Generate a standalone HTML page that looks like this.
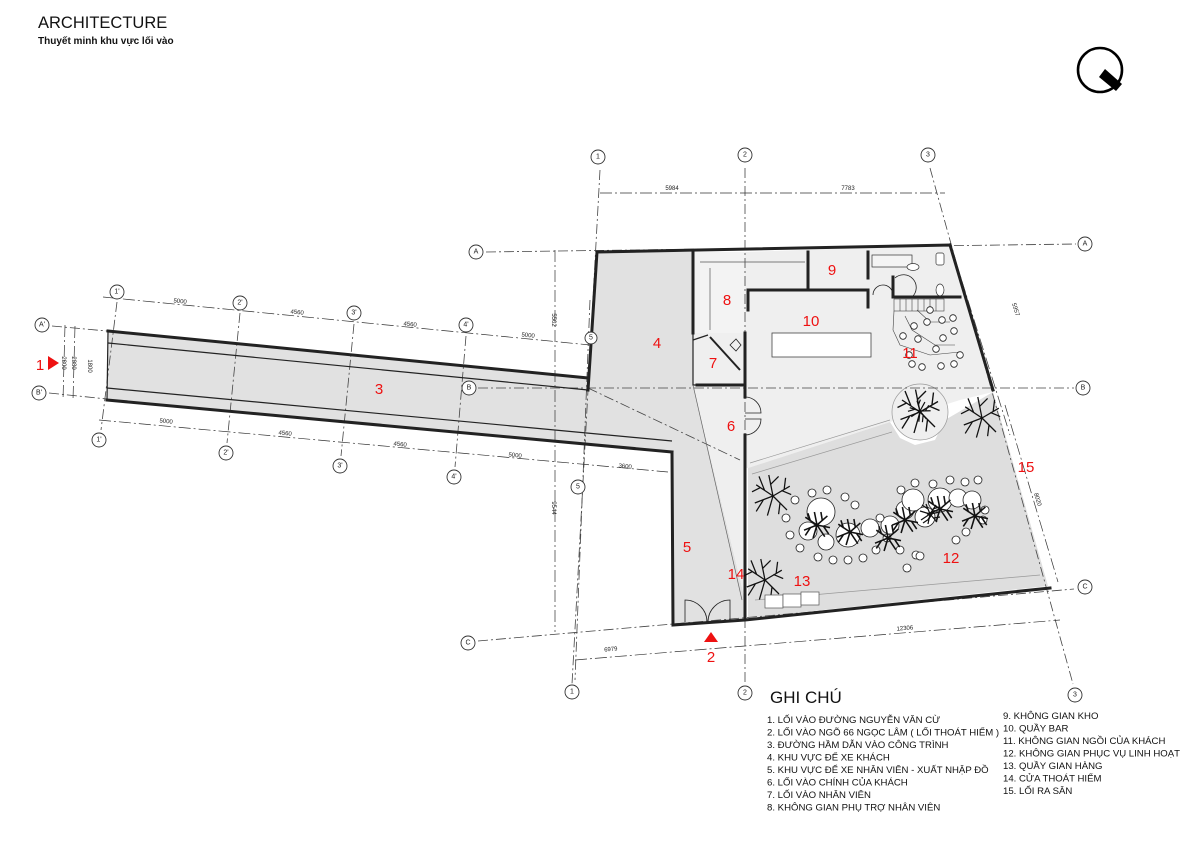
<!DOCTYPE html>
<html><head><meta charset="utf-8"><style>
html,body{margin:0;padding:0;background:#fff;}
svg{display:block;}
text{font-family:"Liberation Sans","DejaVu Sans",sans-serif;}
.g{stroke:#444;stroke-width:0.8;stroke-dasharray:10 3 2 3;fill:none}
.d{stroke:#333;stroke-width:0.7;fill:none;stroke-dasharray:12 3 2 3}
.w{stroke:#222;stroke-width:3;fill:none;stroke-linecap:square}
.t{stroke:#222;stroke-width:1.2;fill:none}
.bub{fill:#fff;stroke:#333;stroke-width:0.9}
.bt{font-size:7px;fill:#222;text-anchor:middle;dominant-baseline:central}
.dim{font-size:6px;fill:#222;text-anchor:middle}
.r{font-size:15px;fill:#ee1111;text-anchor:middle}
.tb{fill:#fff;stroke:#222;stroke-width:0.8}
.leg{font-size:9.6px;fill:#111}
</style></head><body>
<svg width="1200" height="849" viewBox="0 0 1200 849" xmlns="http://www.w3.org/2000/svg">
<defs>
<g id="tree" stroke="#111" stroke-width="0.9" fill="none">
<path d="M0 0 L-12 -8 M-6 -4 L-10 -14 M0 0 L-3 -15 M-2 -8 L4 -14 M0 0 L12 -7 M6 -4 L13 -1 M0 0 L10 10 M5 5 L4 13 M0 0 L-4 14 M0 0 L-13 5 M-7 3 L-12 11 M8 -5 L9 -13 M-9 -6 L-15 -3"/>
</g>
<g id="tree2" stroke="#111" stroke-width="1.2" fill="none">
<path d="M0 0 L-9 -6 M0 0 L-2 -10 M0 0 L8 -7 M0 0 L10 2 M0 0 L6 9 M0 0 L-3 10 M0 0 L-10 4 M-5 -3 L-7 -9 M4 -4 L3 -10 M5 1 L9 7 M-5 2 L-9 8"/>
</g>
</defs>

<!-- title -->
<text x="38" y="28" font-size="16.5" fill="#111">ARCHITECTURE</text>
<text x="38" y="44" font-size="10" fill="#111" font-weight="bold">Thuyết minh khu vực lối vào</text>

<!-- north -->
<circle cx="1100" cy="70" r="22" fill="none" stroke="#000" stroke-width="2.6"/>
<path d="M1099 77 L1105 69 L1122 84 L1116 91 Z" fill="#000"/>

<!-- fills -->
<polygon points="108,331 588,378 597,252 693,252 693,385 745,600 745,620 673,625 672,452 107,400" fill="#e1e1e1"/>
<polygon points="693,385 745,385 745,600" fill="#efefef"/>
<polygon points="693,333 745,333 745,385 693,385" fill="#efefef"/>
<polygon points="745,252 950,245 993,390 993,392 960,400 890,422 748,468 745,468" fill="#efefef"/>
<polygon points="693,252 745,252 745,333 693,333" fill="#f3f3f3"/>
<polygon points="748,468 890,422 900,438 915,445 935,440 945,420 993,392 1048,586 748,618" fill="#dedede"/>
<circle cx="920" cy="412" r="28" fill="#efefef" stroke="#999" stroke-width="0.7"/>
<path d="M750 463 L890 420 M752 474 L892 432" stroke="#999" stroke-width="0.7"/>
<path d="M755 600 L1040 575" stroke="#999" stroke-width="0.7"/>

<!-- grid lines main -->
<line class="g" x1="600" y1="170" x2="572" y2="684"/>
<line class="g" x1="745" y1="168" x2="745" y2="684"/>
<line class="g" x1="930" y1="168" x2="1073" y2="684"/>
<line class="g" x1="486" y1="252" x2="1076" y2="244"/>
<line class="g" x1="478" y1="388" x2="1074" y2="388"/>
<line class="g" x1="478" y1="641" x2="1074" y2="589"/>
<line class="g" x1="590" y1="300" x2="575" y2="680"/>
<!-- tunnel grid -->
<line class="g" x1="117" y1="302" x2="101" y2="430"/>
<line class="g" x1="240" y1="313" x2="227" y2="443"/>
<line class="g" x1="354" y1="324" x2="341" y2="456"/>
<line class="g" x1="466" y1="336" x2="455" y2="467"/>
<line class="g" x1="52" y1="326" x2="107" y2="331"/>
<line class="g" x1="49" y1="393" x2="107" y2="399"/>
<line class="g" x1="588" y1="388" x2="740" y2="460"/>
<!-- dimension lines -->
<line class="d" x1="103" y1="297" x2="590" y2="345"/>
<line class="d" x1="99" y1="420" x2="668" y2="472"/>
<line class="d" x1="600" y1="193" x2="945" y2="193"/>
<line class="d" x1="555" y1="250" x2="555" y2="632"/>
<line class="d" x1="575" y1="660" x2="1060" y2="620"/>
<line class="d" x1="950" y1="243" x2="1010" y2="435"/>
<line class="d" x1="1005" y1="405" x2="1058" y2="582"/>
<line class="d" x1="65" y1="325" x2="63" y2="400"/>
<line class="d" x1="75" y1="326" x2="73" y2="400"/>
<text class="dim" x="180" y="303" transform="rotate(5.6 180 303)">5000</text>
<text class="dim" x="297" y="314" transform="rotate(5.6 297 314)">4560</text>
<text class="dim" x="410" y="326" transform="rotate(5.6 410 326)">4560</text>
<text class="dim" x="528" y="337" transform="rotate(5.6 528 337)">5000</text>
<text class="dim" x="166" y="423" transform="rotate(5.6 166 423)">5000</text>
<text class="dim" x="285" y="435" transform="rotate(5.6 285 435)">4560</text>
<text class="dim" x="400" y="446" transform="rotate(5.6 400 446)">4560</text>
<text class="dim" x="515" y="457" transform="rotate(5.6 515 457)">5000</text>
<text class="dim" x="625" y="468" transform="rotate(5.6 625 468)">3600</text>
<text class="dim" x="672" y="190">5984</text>
<text class="dim" x="848" y="190">7783</text>
<text class="dim" x="611" y="651" transform="rotate(-5 611 651)">6979</text>
<text class="dim" x="905" y="630" transform="rotate(-5 905 630)">12306</text>
<text class="dim" x="552" y="320" transform="rotate(90 552 320)">5502</text>
<text class="dim" x="552" y="508" transform="rotate(90 552 508)">9544</text>
<text class="dim" x="1014" y="310" transform="rotate(73 1014 310)">5957</text>
<text class="dim" x="1036" y="500" transform="rotate(73 1036 500)">8020</text>
<text class="dim" x="62" y="363" transform="rotate(90 62 363)">2800</text>
<text class="dim" x="72" y="363" transform="rotate(90 72 363)">2880</text>
<text class="dim" x="88" y="366" transform="rotate(90 88 366)">1800</text>

<!-- tunnel walls -->
<line class="w" x1="108" y1="331" x2="588" y2="378" stroke-width="2.2"/>
<line class="t" x1="108" y1="343" x2="588" y2="390"/>
<line class="t" x1="107" y1="388" x2="672" y2="441"/>
<line class="w" x1="107" y1="400" x2="672" y2="452" stroke-width="2.2"/>
<line class="t" x1="108" y1="331" x2="107" y2="400"/>

<!-- building walls -->
<polyline class="w" points="588,390 597,252 950,245 993,390"/>
<polyline class="w" points="672,452 673,625 745,620 1050,588"/>
<polyline class="w" points="693,252 693,333" stroke-width="2.5"/>
<polyline class="t" points="693,333 693,385 745,385"/>
<polyline class="w" points="697,385 745,385" stroke-width="2.5"/>
<line class="w" x1="745" y1="333" x2="745" y2="397" stroke-width="2.5"/>
<line class="w" x1="745" y1="435" x2="745" y2="618" stroke-width="2.5"/>
<line class="w" x1="808" y1="252" x2="808" y2="290" stroke-width="2.5"/>
<polyline class="w" points="748,310 748,290 868,290 868,307" stroke-width="2.5"/>
<line class="w" x1="868" y1="252" x2="868" y2="278" stroke-width="2.5"/>
<line class="w" x1="893" y1="277" x2="893" y2="297" stroke-width="2.5"/>
<line class="w" x1="893" y1="297" x2="960" y2="297" stroke-width="2.5"/>
<line class="t" x1="693" y1="340" x2="708" y2="335" />
<polyline fill="none" stroke="#555" stroke-width="0.7" points="700,262 805,262"/>
<polyline fill="none" stroke="#555" stroke-width="0.7" points="710,268 710,330"/>
<line x1="693" y1="385" x2="742" y2="600" stroke="#666" stroke-width="0.7"/>
<line x1="710" y1="337" x2="740" y2="370" stroke="#222" stroke-width="2"/>
<!-- doors -->
<path d="M745 397 A16 16 0 0 1 761 413 L745 413 M745 435 A16 16 0 0 0 761 419 L745 419" fill="none" stroke="#222" stroke-width="0.8"/>
<path d="M685 622 L685 600 A22 22 0 0 1 707 622 M730 622 L730 600 A22 22 0 0 0 708 622" fill="none" stroke="#222" stroke-width="0.8"/>
<path d="M873 295 A10 10 0 0 1 893 295 M895 278 A10 10 0 0 1 912 297" fill="none" stroke="#222" stroke-width="0.8"/>
<path d="M730 345 l6 -6 l5 6 l-5 6z" fill="none" stroke="#222" stroke-width="0.8"/>

<!-- bar counter -->
<rect x="772" y="333" width="99" height="24" fill="#fff" stroke="#444" stroke-width="0.8"/>
<!-- stairs -->
<g stroke="#444" stroke-width="0.6" fill="none">
<rect x="894" y="299" width="50" height="12"/>
<path d="M900 299v12M906 299v12M912 299v12M918 299v12M924 299v12M930 299v12M936 299v12"/>
<path d="M894 311 L893 330 L900 345 L930 355 L960 352"/>
<path d="M905 316 L912 330 L935 345 L955 345"/>
<path d="M917 310 L930 322 L950 322"/>
</g>
<g class="tb">
<circle cx="903" cy="336" r="3.3"/><circle cx="914" cy="326" r="3.3"/><circle cx="918" cy="339" r="3.3"/><circle cx="927" cy="322" r="3.3"/><circle cx="930" cy="310" r="3.3"/>
<circle cx="942" cy="320" r="3.3"/><circle cx="943" cy="338" r="3.3"/><circle cx="954" cy="331" r="3.3"/><circle cx="953" cy="318" r="3.3"/>
<circle cx="909" cy="355" r="3.3"/><circle cx="912" cy="364" r="3.3"/><circle cx="922" cy="367" r="3.3"/><circle cx="941" cy="366" r="3.3"/><circle cx="954" cy="364" r="3.3"/><circle cx="960" cy="355" r="3.3"/><circle cx="936" cy="349" r="3.3"/>
</g>
<!-- WC -->
<g stroke="#333" stroke-width="0.7" fill="#fff">
<rect x="872" y="255" width="40" height="12" fill="#f4f4f4"/>
<ellipse cx="913" cy="267" rx="6" ry="3.5"/>
<rect x="936" y="253" width="8" height="12" rx="2"/>
<ellipse cx="940" cy="290" rx="4" ry="6"/>
</g>

<!-- courtyard tables -->
<g class="tb">
<circle cx="821" cy="512" r="14"/><circle cx="808" cy="531" r="9"/><circle cx="826" cy="542" r="8"/><circle cx="848" cy="535" r="12"/><circle cx="870" cy="528" r="9"/><circle cx="890" cy="525" r="9"/><circle cx="905" cy="510" r="9"/>
<circle cx="913" cy="500" r="11"/><circle cx="925" cy="517" r="10"/><circle cx="940" cy="500" r="12"/><circle cx="958" cy="498" r="9"/><circle cx="972" cy="500" r="9"/>
<circle cx="795" cy="500" r="4"/><circle cx="812" cy="493" r="4"/><circle cx="827" cy="490" r="4"/><circle cx="845" cy="497" r="4"/><circle cx="855" cy="505" r="4"/>
<circle cx="786" cy="518" r="4"/><circle cx="790" cy="535" r="4"/><circle cx="800" cy="548" r="4"/><circle cx="818" cy="557" r="4"/><circle cx="833" cy="560" r="4"/><circle cx="848" cy="560" r="4"/><circle cx="863" cy="558" r="4"/><circle cx="876" cy="550" r="4"/><circle cx="880" cy="518" r="4"/><circle cx="887" cy="538" r="4"/>
<circle cx="901" cy="490" r="4"/><circle cx="915" cy="483" r="4"/><circle cx="933" cy="484" r="4"/><circle cx="950" cy="480" r="4"/><circle cx="965" cy="482" r="4"/><circle cx="978" cy="480" r="4"/>
<circle cx="985" cy="510" r="4"/><circle cx="983" cy="520" r="4"/><circle cx="966" cy="532" r="4"/><circle cx="956" cy="540" r="4"/><circle cx="916" cy="555" r="4"/><circle cx="900" cy="550" r="4"/><circle cx="907" cy="568" r="4"/><circle cx="920" cy="556" r="4"/>
</g>
<use href="#tree" transform="translate(773 496) scale(1.4)"/>
<use href="#tree" transform="translate(982 418) scale(1.4)"/>
<use href="#tree" transform="translate(765 580) scale(1.4)"/>
<use href="#tree" transform="translate(920 412) scale(1.5)"/>
<use href="#tree2" transform="translate(920 411) rotate(40)"/>
<use href="#tree2" transform="translate(817 525) scale(1.3)"/>
<use href="#tree2" transform="translate(850 532) scale(1.3)"/>
<use href="#tree2" transform="translate(888 538) scale(1.3)"/>
<use href="#tree2" transform="translate(905 520) scale(1.3)"/>
<use href="#tree2" transform="translate(940 509) scale(1.3)"/>
<use href="#tree2" transform="translate(975 516) scale(1.3)"/>
<use href="#tree2" transform="translate(930 514) rotate(90)"/>
<rect x="765" y="595" width="18" height="13" fill="#fff" stroke="#555" stroke-width="0.7"/>
<rect x="783" y="594" width="18" height="13" fill="#fff" stroke="#555" stroke-width="0.7"/>
<rect x="801" y="592" width="18" height="13" fill="#fff" stroke="#555" stroke-width="0.7"/>

<!-- bubbles -->
<g>
<circle class="bub" cx="598" cy="157" r="7"/><text class="bt" x="598" y="157">1</text>
<circle class="bub" cx="745" cy="155" r="7"/><text class="bt" x="745" y="155">2</text>
<circle class="bub" cx="928" cy="155" r="7"/><text class="bt" x="928" y="155">3</text>
<circle class="bub" cx="572" cy="692" r="7"/><text class="bt" x="572" y="692">1</text>
<circle class="bub" cx="745" cy="693" r="7"/><text class="bt" x="745" y="693">2</text>
<circle class="bub" cx="1075" cy="695" r="7"/><text class="bt" x="1075" y="695">3</text>
<circle class="bub" cx="476" cy="252" r="7"/><text class="bt" x="476" y="252">A</text>
<circle class="bub" cx="1085" cy="244" r="7"/><text class="bt" x="1085" y="244">A</text>
<circle class="bub" cx="469" cy="388" r="7"/><text class="bt" x="469" y="388">B</text>
<circle class="bub" cx="1083" cy="388" r="7"/><text class="bt" x="1083" y="388">B</text>
<circle class="bub" cx="468" cy="643" r="7"/><text class="bt" x="468" y="643">C</text>
<circle class="bub" cx="1085" cy="587" r="7"/><text class="bt" x="1085" y="587">C</text>
<circle class="bub" cx="578" cy="487" r="7"/><text class="bt" x="578" y="487">5</text>
<circle class="bub" cx="591" cy="338" r="6"/><text class="bt" x="591" y="338">5</text>
<circle class="bub" cx="117" cy="292" r="7"/><text class="bt" x="117" y="292">1'</text>
<circle class="bub" cx="240" cy="303" r="7"/><text class="bt" x="240" y="303">2'</text>
<circle class="bub" cx="354" cy="313" r="7"/><text class="bt" x="354" y="313">3'</text>
<circle class="bub" cx="466" cy="325" r="7"/><text class="bt" x="466" y="325">4'</text>
<circle class="bub" cx="99" cy="440" r="7"/><text class="bt" x="99" y="440">1'</text>
<circle class="bub" cx="226" cy="453" r="7"/><text class="bt" x="226" y="453">2'</text>
<circle class="bub" cx="340" cy="466" r="7"/><text class="bt" x="340" y="466">3'</text>
<circle class="bub" cx="454" cy="477" r="7"/><text class="bt" x="454" y="477">4'</text>
<circle class="bub" cx="42" cy="325" r="7"/><text class="bt" x="42" y="325">A'</text>
<circle class="bub" cx="39" cy="393" r="7"/><text class="bt" x="39" y="393">B'</text>
</g>

<!-- red labels -->
<text class="r" x="40" y="370">1</text>
<polygon points="48,356 48,370 59,363" fill="#ee1111"/>
<polygon points="711,632 704,642 718,642" fill="#ee1111"/>
<text class="r" x="711" y="662">2</text>
<text class="r" x="379" y="394">3</text>
<text class="r" x="657" y="348">4</text>
<text class="r" x="687" y="552">5</text>
<text class="r" x="731" y="431">6</text>
<text class="r" x="713" y="368">7</text>
<text class="r" x="727" y="305">8</text>
<text class="r" x="832" y="275">9</text>
<text class="r" x="811" y="326">10</text>
<text class="r" x="910" y="358">11</text>
<text class="r" x="951" y="563">12</text>
<text class="r" x="802" y="586">13</text>
<text class="r" x="736" y="579">14</text>
<text class="r" x="1026" y="472">15</text>

<!-- legend -->
<text x="770" y="703" font-size="17" fill="#111">GHI CHÚ</text>
<g class="leg">
<text x="767" y="723">1. LỐI VÀO ĐƯỜNG NGUYỄN VĂN CỪ</text>
<text x="767" y="735.5">2. LỐI VÀO NGÕ 66 NGỌC LÂM ( LỐI THOÁT HIỂM )</text>
<text x="767" y="748">3. ĐƯỜNG HẦM DẪN VÀO CÔNG TRÌNH</text>
<text x="767" y="760.5">4. KHU VỰC ĐỂ XE KHÁCH</text>
<text x="767" y="773">5. KHU VỰC ĐỂ XE NHÂN VIÊN - XUẤT NHẬP ĐỒ</text>
<text x="767" y="785.5">6. LỐI VÀO CHÍNH CỦA KHÁCH</text>
<text x="767" y="798">7. LỐI VÀO NHÂN VIÊN</text>
<text x="767" y="810.5">8. KHÔNG GIAN PHỤ TRỢ NHÂN VIÊN</text>
<text x="1003" y="719">9. KHÔNG GIAN KHO</text>
<text x="1003" y="731.5">10. QUẦY BAR</text>
<text x="1003" y="744">11. KHÔNG GIAN NGỒI CỦA KHÁCH</text>
<text x="1003" y="756.5">12. KHÔNG GIAN PHỤC VỤ LINH HOẠT</text>
<text x="1003" y="769">13. QUẦY GIAN HÀNG</text>
<text x="1003" y="781.5">14. CỬA THOÁT HIỂM</text>
<text x="1003" y="794">15. LỐI RA SÂN</text>
</g>
</svg>
</body></html>
